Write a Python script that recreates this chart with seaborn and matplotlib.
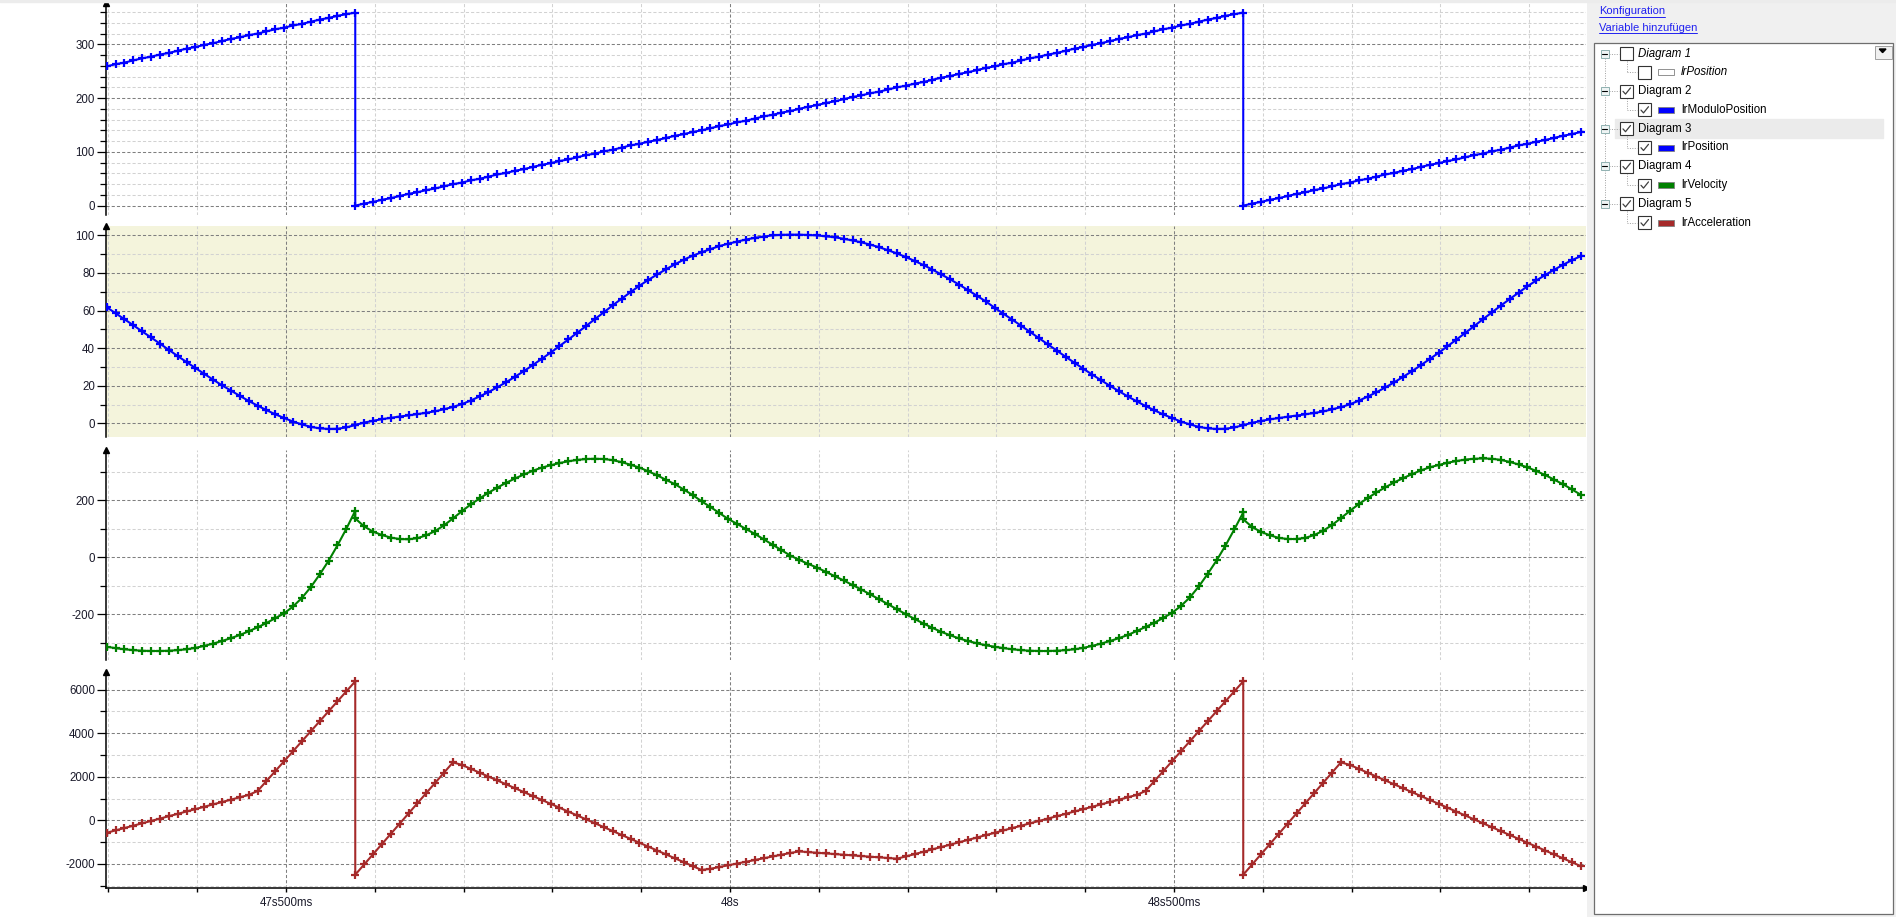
import numpy as np
import seaborn as sns
import matplotlib.pyplot as plt
from matplotlib.patches import Rectangle, Polygon
from matplotlib.ticker import MultipleLocator

# trace recorder samples every 10 ms; each modulo wrap (k=28, k=128) is logged twice
t_start = 47.298
t_step = 0.010
n_samples = 167
wrap_idx = [28, 128]

mod_position = [
    259, 263, 266, 270, 274, 277, 281, 284, 288, 292, 295, 299, 302, 306, 310,
    313, 317, 320, 324, 328, 331, 335, 338, 342, 346, 349, 353, 356, 359, 0,
    4, 7, 11, 14, 18, 22, 25, 29, 32, 36, 40, 43, 47, 50, 54, 58, 61, 65, 68, 72,
    76, 79, 83, 86, 90, 94, 97, 101, 104, 108, 112, 115, 119, 122, 126, 130, 133, 137, 140, 144,
    148, 151, 155, 158, 162, 166, 169, 173, 176, 180, 184, 187, 191, 194, 198, 202, 205, 209, 212, 216,
    220, 223, 227, 230, 234, 238, 241, 245, 248, 252, 256, 259, 263, 266, 270, 274, 277, 281, 284, 288,
    292, 295, 299, 302, 306, 310, 313, 317, 320, 324, 328, 331, 335, 338, 342, 346, 349, 353, 356, 359,
    0,
    4, 7, 11, 14, 18, 22, 25, 29, 32, 36, 40, 43, 47, 50, 54, 58, 61, 65, 68, 72,
    76, 79, 83, 86, 90, 94, 97, 101, 104, 108, 112, 115, 119, 122, 126, 130, 133, 137,
]

position = [
    61.8, 58.6, 55.4, 52.2, 48.9, 45.7, 42.4, 39.1, 35.8, 32.6, 29.4, 26.3, 23.2, 20.2,
    17.4, 14.6, 11.9, 9.4, 7.0, 4.8, 2.8, 0.9, -0.6, -1.9, -2.7, -3.0, -2.9, -2.2,
    -0.9, -0.9,
    0.4, 1.3, 2.2, 2.9, 3.6, 4.2, 4.9, 5.6, 6.4, 7.5, 8.7, 10.2, 12.1, 14.3, 16.6, 19.2,
    21.9, 24.8, 27.8, 31.0, 34.3, 37.6, 41.1, 44.6, 48.2, 51.8, 55.5, 59.1, 62.8, 66.3,
    69.8, 73.2, 76.3, 79.2, 82.0, 84.6, 87.1, 89.2, 91.0, 92.7, 94.3, 95.6,
    96.7, 97.8, 98.7, 99.4, 100.0, 100.3, 100.4, 100.4, 100.2, 100.0, 99.5, 99.0, 98.2,
    97.3, 96.3, 95.1, 93.7, 92.1, 90.4, 88.5, 86.4, 84.2, 81.8, 79.2, 76.6, 73.8, 70.9,
    67.9, 64.9,
    61.5, 58.3, 55.1, 51.9, 48.6, 45.3, 42.0, 38.7, 35.4, 32.2, 29.0, 25.9, 22.9, 19.9,
    17.1, 14.3, 11.7, 9.2, 6.9, 4.7, 2.8, 0.9, -0.6, -1.9, -2.7, -3.0, -2.9, -2.2,
    -1.0, -1.0,
    0.3, 1.2, 2.1, 2.8, 3.5, 4.1, 4.8, 5.5, 6.3, 7.4, 8.6, 10.1, 12.0, 14.2, 16.5, 19.1,
    21.8, 24.7, 27.7, 30.9, 34.2, 37.5, 41.0, 44.5, 48.1, 51.7, 55.4, 59.0, 62.6, 66.1,
    69.5, 72.9, 76.0, 78.9, 81.7, 84.3, 86.8, 88.9,
]

velocity = [
    -313, -318, -322, -325, -327, -328, -328, -327, -325, -322, -317, -310, -302, -293,
    -283, -272, -259, -245, -230, -213, -196, -172, -142, -104, -60, -12, 42, 100,
    163, 136,
    108, 90, 78, 69, 64, 63, 67, 77, 92, 112, 136, 161, 185, 206, 226, 244, 261, 276,
    290, 303, 314, 322, 330, 336, 341, 344, 345, 344, 340, 333, 324, 314, 301, 287,
    271, 256, 237, 218, 196, 176, 155, 134,
    117, 99, 82, 63, 44, 25, 6, -9, -23, -36, -51, -66, -81, -97, -113, -130, -147,
    -164, -182, -199, -216, -232, -247, -261, -273, -284, -293, -301, -308,
    -313, -318, -322, -325, -327, -328, -328, -327, -325, -322, -317, -310, -302, -293,
    -283, -272, -258, -244, -229, -212, -194, -170, -140, -102, -58, -11, 41, 98,
    157, 133,
    106, 89, 77, 68, 64, 64, 68, 78, 93, 113, 137, 162, 186, 207, 227, 245, 262, 277,
    291, 304, 315, 323, 331, 337, 342, 345, 346, 345, 341, 334, 325, 315, 302, 288,
    272, 256, 238, 219,
]

acceleration = [
    -570, -462, -353, -244, -136, -27, 82, 190, 299, 408, 516, 625, 733, 842, 951, 1059,
    1168, 1347, 1804, 2262, 2719, 3177, 3635, 4092, 4550, 5007, 5465, 5922,
    6380, -2494,
    -2025, -1557, -1088, -619, -151, 318, 787, 1255, 1724, 2193, 2661, 2547, 2368, 2190,
    2011, 1832, 1654, 1475, 1296, 1118, 939, 760, 582, 403, 224, 46, -133, -312, -490,
    -669, -848, -1026, -1205, -1384, -1562, -1741, -1920, -2098, -2277, -2222, -2141, -2061,
    -1980, -1899, -1819, -1738, -1657, -1576, -1496, -1426, -1456, -1486, -1517, -1547,
    -1577, -1607, -1638, -1668, -1698, -1728, -1758, -1657, -1548, -1439, -1331, -1222,
    -1114, -1005, -896, -788, -679,
    -570, -462, -353, -244, -136, -27, 82, 190, 299, 408, 516, 625, 733, 842, 951, 1059,
    1168, 1347, 1804, 2262, 2719, 3177, 3635, 4092, 4550, 5007, 5465, 5922,
    6380, -2494,
    -2025, -1557, -1088, -619, -151, 318, 787, 1255, 1724, 2193, 2661, 2547, 2368, 2190,
    2011, 1832, 1654, 1475, 1296, 1118, 939, 760, 582, 403, 224, 46, -133, -312, -490,
    -669, -848, -1026, -1205, -1384, -1562, -1741, -1920, -2098,
]

x_ticks = [47.5, 48.0, 48.5]
x_tick_labels = ['47s500ms', '48s', '48s500ms']

tree_labels = ['Diagram 1', 'lrPosition', 'Diagram 2', 'lrModuloPosition', 'Diagram 3',
               'lrPosition', 'Diagram 4', 'lrVelocity', 'Diagram 5', 'lrAcceleration']
tree_checked = [False, False, True, True, True, True, True, True, True, True]
tree_colors = [None, 'white', None, '#0000FF', None, '#0000FF', None, '#008000', None, '#A52A2A']
link_labels = ['Konfiguration', 'Variable hinzufügen']

t_s = t_start + t_step * np.arange(n_samples)
t_s = np.insert(t_s, [i + 1 for i in wrap_idx], t_s[wrap_idx])
for series in (mod_position, position, velocity, acceleration):
    assert len(series) == len(t_s), len(series)

sns.set_style('white')
plt.rcParams['font.family'] = ['Liberation Sans', 'DejaVu Sans']
plt.rcParams['axes.unicode_minus'] = False

W, H = 1896, 917
fig = plt.figure(figsize=(W / 100, H / 100), dpi=100)


def px_rect(x0, y0, x1, y1):
    return [x0 / W, 1 - y1 / H, (x1 - x0) / W, (y1 - y0) / H]


# (values, colour, ylim, major step, minor step, background, top px, bottom px)
panels = [
    (mod_position, '#0000FF', (-17.3, 376.8), 100, 20, 'white', 3, 215),
    (position, '#0000FF', (-7.45, 105.0), 20, 10, '#F4F4DC', 226, 437.3),
    (velocity, '#008000', (-359.5, 375.6), 200, 100, 'white', 450, 660),
    (acceleration, '#A52A2A', (-3090, 6809), 2000, 1000, 'white', 672, 887.7),
]

dark_grid = '#7f7f7f'
light_grid = '#d2d2d2'
label_color = '#1a1a2a'

for i, (vals, color, ylim, major, minor, bg, top, bottom) in enumerate(panels):
    ax = fig.add_axes(px_rect(106, top, 1586, bottom))
    ax.set_facecolor(bg)
    sns.lineplot(x=t_s, y=vals, ax=ax, estimator=None, sort=False, legend=False,
                 color=color, linewidth=1.5, marker='+', markersize=6,
                 markeredgewidth=1.6, markeredgecolor=color, zorder=3)
    ax.set_xlim(47.2973, 48.964)
    ax.set_ylim(*ylim)
    ax.set_xlabel('')
    ax.set_ylabel('')
    ax.set_xticks(x_ticks)
    ax.set_xticklabels(x_tick_labels)
    ax.xaxis.set_minor_locator(MultipleLocator(0.1))
    ax.yaxis.set_major_locator(MultipleLocator(major))
    ax.yaxis.set_minor_locator(MultipleLocator(minor))
    ax.set_axisbelow(True)
    ax.grid(which='major', color=dark_grid, linestyle=(0, (3, 2)), linewidth=0.75)
    ax.grid(which='minor', color=light_grid, linestyle=(0, (3, 2)), linewidth=0.75)
    for side_name in ['top', 'right', 'bottom']:
        ax.spines[side_name].set_visible(False)
    ax.spines['left'].set_color('black')
    ax.spines['left'].set_linewidth(1.1)
    ax.tick_params(axis='y', which='major', length=6.5, width=0.9, direction='out',
                   labelsize=8.3, pad=1.5, color='black', labelcolor=label_color, left=True)
    ax.tick_params(axis='y', which='minor', length=4.3, width=0.9, direction='out',
                   color='black', left=True)
    ax.plot([0], [1], marker='^', color='black', markersize=5, transform=ax.transAxes,
            clip_on=False, zorder=5)
    if i < len(panels) - 1:
        ax.tick_params(axis='x', which='both', bottom=False, labelbottom=False)
    else:
        ax.spines['bottom'].set_visible(True)
        ax.spines['bottom'].set_color('black')
        ax.spines['bottom'].set_linewidth(1.1)
        ax.tick_params(axis='x', which='both', length=3, width=1, direction='out',
                       labelsize=8.3, pad=4, color='black', labelcolor=label_color, bottom=True)
        ax.plot([1], [0], marker='>', color='black', markersize=5, transform=ax.transAxes,
                clip_on=False, zorder=5)

# thin window-chrome strip along the top
fig.add_artist(Rectangle((0, 1 - 2 / H), 1, 2 / H, transform=fig.transFigure,
                         color='#ececec', zorder=10))

# variable tree panel on the right
side = fig.add_axes([1587 / W, 0, (W - 1587) / W, 1])
side.set_xlim(1587, W)
side.set_ylim(H, 0)
side.axis('off')
side.add_patch(Rectangle((1587, 0), W - 1587, H, color='#f0f0f0', zorder=0))
side.add_patch(Rectangle((1594, 43), 299, 871, facecolor='white', edgecolor='#6e6e6e',
                         linewidth=0.9, zorder=1))
side.add_patch(Rectangle((1875, 45.7), 17, 13.6, facecolor='#f0f0f0', edgecolor='#a0a0a0',
                         linewidth=0.7, zorder=2))
side.add_patch(Polygon([(1879.3, 49), (1886, 49), (1882.6, 52.6)], closed=True,
                       color='black', zorder=3))

link_texts = []
for label, y in zip(link_labels, [11.5, 28]):
    link_texts.append((side.text(1599, y, label, color='#2020f0', fontsize=8,
                                 va='center', ha='left', zorder=3), y))

row_y = [53.5 + 18.8 * r for r in range(len(tree_labels))]
side.add_patch(Rectangle((1615, row_y[4] - 9.5), 268, 19, color='#ebebeb', zorder=1.5))
dot = dict(color='#a0a0a0', linewidth=0.7, linestyle=(0, (1, 1.5)), zorder=2)
side.plot([1604.5, 1604.5], [row_y[0] + 4, row_y[8] - 4], **dot)


def checkbox(x, y, checked):
    side.add_patch(Rectangle((x, y - 6.5), 13, 13, facecolor='white', edgecolor='#333333',
                             linewidth=0.8, zorder=3))
    if checked:
        side.plot([x + 3, x + 5.5, x + 10.5], [y + 0.2, y + 3, y - 3.2], color='#404040',
                  linewidth=0.9, zorder=4)


for r, (label, checked, swatch) in enumerate(zip(tree_labels, tree_checked, tree_colors)):
    y = row_y[r]
    style = 'italic' if r < 2 else 'normal'
    if r % 2 == 0:
        side.add_patch(Rectangle((1600.5, y - 4), 8, 8, facecolor='#eef4f4', edgecolor='#8fb0b0',
                                 linewidth=0.7, zorder=3))
        side.plot([1602.3, 1606.7], [y, y], color='black', linewidth=0.8, zorder=4)
        side.plot([1609, 1619], [y, y], **dot)
        checkbox(1620, y, checked)
        side.text(1638, y, label, fontsize=8.3, va='center', ha='left', style=style,
                  color='black', zorder=4)
    else:
        side.plot([1626.5, 1626.5], [row_y[r - 1] + 7, y], **dot)
        side.plot([1627, 1637], [y, y], **dot)
        checkbox(1638, y, checked)
        side.add_patch(Rectangle((1658, y - 3), 16, 6, facecolor=swatch, edgecolor='#808080',
                                 linewidth=0.6, zorder=3))
        side.text(1681, y, label, fontsize=8.3, va='center', ha='left', style=style,
                  color='black', zorder=4)

fig.canvas.draw()
renderer = fig.canvas.get_renderer()
inv = side.transData.inverted()
for txt, y in link_texts:
    bb = txt.get_window_extent(renderer)
    x0 = inv.transform((bb.x0, bb.y0))[0]
    x1 = inv.transform((bb.x1, bb.y0))[0]
    side.plot([x0, x1], [y + 5.2, y + 5.2], color='#2020f0', linewidth=0.7, zorder=3)

fig.savefig('out.png', dpi=100)
